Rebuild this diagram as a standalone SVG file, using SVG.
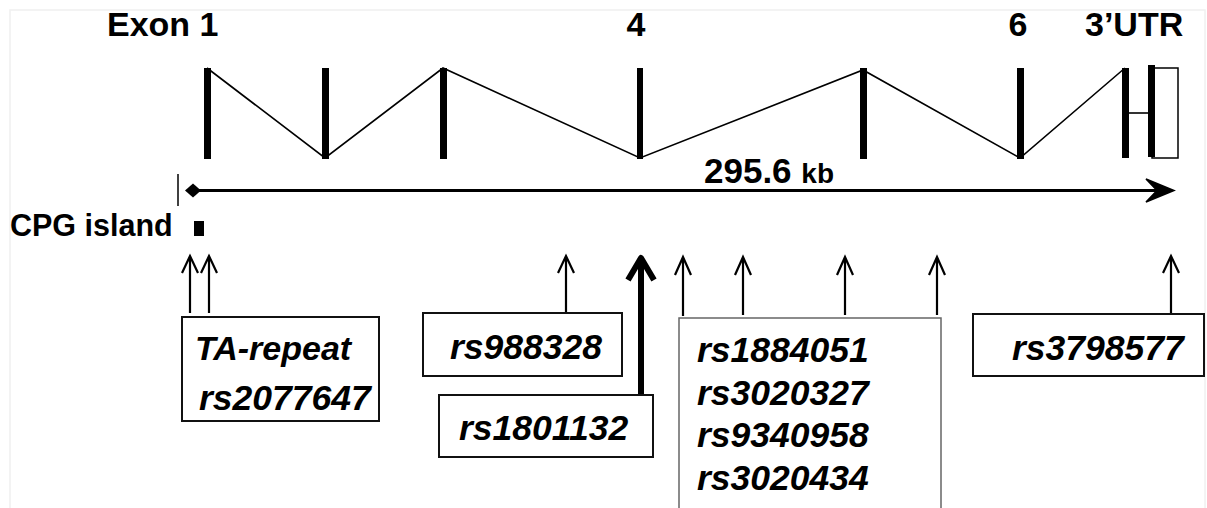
<svg xmlns="http://www.w3.org/2000/svg" width="1207" height="508" viewBox="0 0 1207 508">
  <style>
    .bg { fill: #ffffff; }
    .frame { fill: none; stroke: #f0f0f0; stroke-width: 1.5; }
    .title { font-family: "Liberation Sans", Arial, sans-serif; font-weight: bold; font-size: 34px; fill: #000; }
    .label { font-family: "Liberation Sans", Arial, sans-serif; font-weight: bold; font-style: italic; font-size: 35.5px; fill: #000; }
    .exon { fill: #000; }
    .intron { fill: none; stroke: #000; stroke-width: 1.6; stroke-linejoin: miter; }
    .snp { fill: none; stroke: #000; stroke-width: 2.2; stroke-linecap: butt; stroke-linejoin: miter; }
    .snp-main { fill: none; stroke: #000; stroke-width: 6; stroke-linecap: butt; stroke-linejoin: round; }
    .box { fill: #fff; stroke: #111; stroke-width: 2; }
    .box-light { fill: #fff; stroke: #666; stroke-width: 1.5; }
  </style>

  <rect class="bg" x="0" y="0" width="1207" height="508"/>
  <rect class="frame" x="10" y="10" width="1195" height="510"/>

  <!-- header labels -->
  <g id="exon-labels">
    <text class="title" x="107" y="36">Exon 1</text>
    <text class="title" x="636" y="36" text-anchor="middle">4</text>
    <text class="title" x="1018" y="36" text-anchor="middle">6</text>
    <text class="title" x="1085" y="36">3’UTR</text>
  </g>

  <!-- gene structure: exon bars -->
  <g id="gene-structure">
    <rect class="exon" x="204" y="68" width="7" height="91"/>
    <rect class="exon" x="322" y="68" width="7" height="91"/>
    <rect class="exon" x="440" y="68" width="7" height="91"/>
    <rect class="exon" x="637" y="68" width="6" height="91"/>
    <rect class="exon" x="860" y="68" width="7" height="91"/>
    <rect class="exon" x="1017" y="68" width="7" height="91"/>
    <rect class="exon" x="1122" y="68" width="7" height="90"/>
    <rect x="1152" y="68" width="26" height="90" fill="none" stroke="#000" stroke-width="1.5"/>
    <rect class="exon" x="1148" y="65" width="7" height="92"/>
  </g>

  <!-- introns and scale bar -->
  <g id="connectors">
    <polyline class="intron" points="207,68 325,158 443,68 640,158 863,70 1020,158 1125,68"/>
    <line class="intron" x1="1129" y1="113" x2="1148" y2="113"/>

    <line x1="178" y1="174" x2="178" y2="206" stroke="#000" stroke-width="1.5"/>
    <line x1="198" y1="190.5" x2="1166" y2="190.5" stroke="#000" stroke-width="3"/>
    <path d="M185,190.5 L193,183.5 L201,190.5 L193,197.5 Z" fill="#000"/>
    <path d="M1146,179 L1174,190.5 L1146,202 L1157,190.5 Z" fill="#000" stroke="#000" stroke-width="1.5" stroke-linejoin="miter"/>

    <!-- SNP position arrows -->
    <path class="snp" d="M190,313 V256 M182,273 L190,256 L198,273"/>
    <path class="snp" d="M209,313 V256 M201,273 L209,256 L217,273"/>
    <path class="snp" d="M566,313 V256 M558,273 L566,256 L574,273"/>
    <path class="snp-main" d="M641,394 V258 M628,280 L641,258 L654,280"/>
    <path class="snp" d="M683,316 V257 M675,275 L683,257 L691,275"/>
    <path class="snp" d="M743,315 V257 M735,275 L743,257 L751,275"/>
    <path class="snp" d="M845,315 V257 M837,275 L845,257 L853,275"/>
    <path class="snp" d="M937,315 V257 M929,275 L937,257 L945,275"/>
    <path class="snp" d="M1171,313 V256 M1163,273 L1171,256 L1179,273"/>
  </g>

  <g id="cpg-island">
    <text class="title" x="10" y="236" style="font-size:30.5px">CPG island</text>
    <rect class="exon" x="194" y="221" width="10" height="15"/>
  </g>

  <g id="scale">
    <text class="title" x="704" y="183" style="font-size:35px">295.6 <tspan style="font-size:28px">kb</tspan></text>
  </g>

  <g id="box-ta-repeat">
    <rect class="box" x="182" y="317" width="197" height="104"/>
    <text class="label" x="195" y="360" style="font-size:34px">TA-repeat</text>
    <text class="label" x="199" y="410">rs2077647</text>
  </g>

  <g id="box-rs988328">
    <rect class="box" x="423" y="313" width="199" height="63"/>
    <text class="label" x="450" y="359">rs988328</text>
  </g>

  <g id="box-rs1801132">
    <rect class="box" x="439" y="395" width="214" height="62"/>
    <text class="label" x="459" y="440">rs1801132</text>
  </g>

  <g id="box-intron4-snps">
    <path class="box-light" d="M679,510 V318 H941 V510"/>
    <text class="label" x="697" y="362">rs1884051</text>
    <text class="label" x="697" y="405">rs3020327</text>
    <text class="label" x="697" y="447">rs9340958</text>
    <text class="label" x="697" y="490">rs3020434</text>
  </g>

  <g id="box-rs3798577">
    <rect class="box" x="973" y="314" width="231" height="62"/>
    <text class="label" x="1012" y="360">rs3798577</text>
  </g>
</svg>
